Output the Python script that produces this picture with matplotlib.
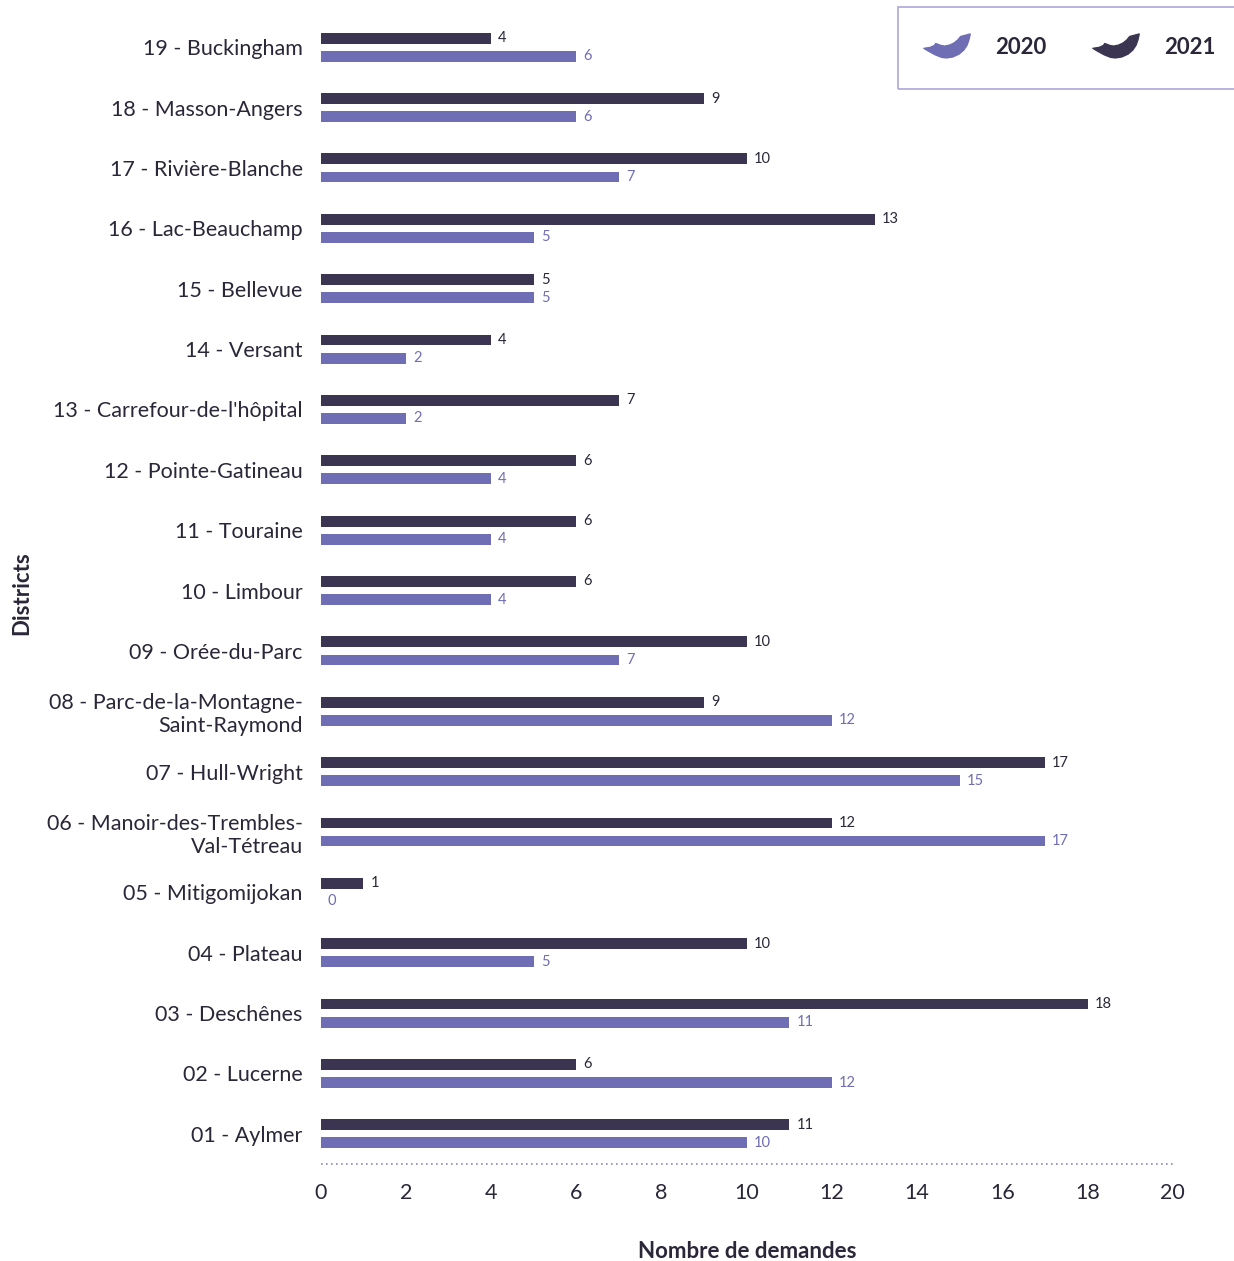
import numpy as np
import matplotlib.pyplot as plt
from matplotlib.path import Path
from matplotlib.lines import Line2D
from matplotlib.patches import Rectangle

plt.rcParams['font.family'] = ['Lato', 'DejaVu Sans']

districts = [
    "01 - Aylmer", "02 - Lucerne", "03 - Deschênes", "04 - Plateau",
    "05 - Mitigomijokan", "06 - Manoir-des-Trembles-\nVal-Tétreau",
    "07 - Hull-Wright", "08 - Parc-de-la-Montagne-\nSaint-Raymond",
    "09 - Orée-du-Parc", "10 - Limbour", "11 - Touraine",
    "12 - Pointe-Gatineau", "13 - Carrefour-de-l'hôpital", "14 - Versant",
    "15 - Bellevue", "16 - Lac-Beauchamp", "17 - Rivière-Blanche",
    "18 - Masson-Angers", "19 - Buckingham",
]
demandes_2020 = [10, 12, 11, 5, 0, 17, 15, 12, 7, 4, 4, 4, 2, 2, 5, 5, 7, 6, 6]
demandes_2021 = [11, 6, 18, 10, 1, 12, 17, 9, 10, 6, 6, 6, 7, 4, 5, 13, 10, 9, 4]
years = ["2020", "2021"]

c2020 = "#6f6db3"
c2021 = "#3b3552"
text_col = "#2b2638"

fig = plt.figure(figsize=(12.34, 12.61), dpi=100)
ax = fig.add_axes([0.260, 0.0769, 0.6904, 0.9096])

y = np.arange(len(districts))
off = 0.15
h = 0.18
ax.barh(y + off, demandes_2021, height=h, color=c2021)
ax.barh(y - off, demandes_2020, height=h, color=c2020)

for yi, v in zip(y, demandes_2021):
    ax.annotate(str(v), (v, yi + off), xytext=(5, 0), textcoords="offset points",
                va="center", ha="left", fontsize=10.5, color=text_col)
for yi, v in zip(y, demandes_2020):
    ax.annotate(str(v), (v, yi - off), xytext=(5, 0), textcoords="offset points",
                va="center", ha="left", fontsize=10.5, color=c2020)

ax.set_xlim(0, 20)
ax.set_ylim(-0.5, len(districts) - 0.5)
ax.set_xticks(range(0, 21, 2))
ax.set_yticks(y)
ax.set_yticklabels(districts)
ax.tick_params(axis="both", length=0, labelsize=15.5, labelcolor=text_col)
ax.tick_params(axis="y", pad=13)
ax.tick_params(axis="x", pad=14)
for s in ax.spines.values():
    s.set_visible(False)
ax.axhline(-0.5, color="#8a87c8", lw=1.2, ls=(0, (1, 2)), clip_on=False)

ax.set_xlabel("Nombre de demandes", fontsize=16, fontweight="bold",
              color=text_col, labelpad=27)
fig.text(22 / 1234, 1 - 593 / 1261, "Districts", rotation=90, fontsize=16,
         fontweight="bold", color=text_col, ha="center", va="center")

# flat crescent used as legend marker (outline in pixel units, y down)
pts = np.array([
    (85, 145), (100, 154), (120, 165), (140, 173), (155, 175), (175, 172),
    (195, 163), (210, 150), (220, 135), (226, 118), (230, 100),
    (215, 104), (200, 108), (192, 118), (180, 128), (165, 135), (150, 138),
    (138, 136), (128, 132), (122, 130), (118, 136), (105, 142), (85, 145),
], dtype=float)
pts[:, 1] *= -1
pts -= pts.mean(axis=0)
codes = [Path.MOVETO] + [Path.LINETO] * (len(pts) - 2) + [Path.CLOSEPOLY]
crescent = Path(pts, codes)

W, H = 1234, 1261
fig.add_artist(Rectangle((898 / W, 1 - 89 / H), 400 / W, 82 / H,
                         transform=fig.transFigure, fill=False,
                         edgecolor="#aaa8d8", lw=1.2, clip_on=False))
for (mx, tx), lab, col in zip([(947, 995), (1116, 1164)], years, [c2020, c2021]):
    fig.add_artist(Line2D([mx / W], [1 - 46 / H], transform=fig.transFigure,
                          marker=crescent, markersize=34, color=col, lw=0))
    fig.text(tx / W, 1 - 48 / H, lab, fontsize=16, fontweight="bold",
             color=text_col, ha="left", va="center")

fig.savefig("out.png", dpi=100)
